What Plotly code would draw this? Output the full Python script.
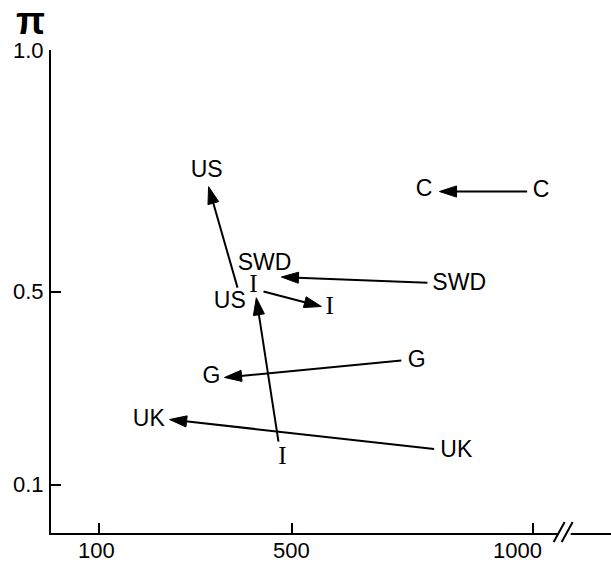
import plotly.graph_objects as go

# ---------------- data ----------------
label_text = ["C", "C", "SWD", "SWD", "US", "US", "G", "G", "UK", "UK"]
label_x = [1017, 774, 847, 443, 371, 323, 759, 333, 841, 203]
label_y = [0.707, 0.709, 0.516, 0.556, 0.477, 0.748, 0.355, 0.322, 0.170, 0.233]

italy_text = ["I", "I", "I"]
italy_x = [480, 420, 578]
italy_y = [0.156, 0.512, 0.467]

arrow_names = ["C", "SWD", "US", "I (1)", "I (2)", "G", "UK"]
arrow_x0 = [988, 781, 387, 472, 441, 727, 795]
arrow_y0 = [0.707, 0.518, 0.508, 0.189, 0.500, 0.357, 0.174]
arrow_x1 = [806, 478, 327, 426, 561, 360, 246]
arrow_y1 = [0.707, 0.530, 0.717, 0.487, 0.469, 0.322, 0.235]

x_ticks = [100, 500, 1000]
x_tick_labels = ["100", "500", "1000"]
y_ticks = [0.1, 0.5, 1.0]
y_tick_labels = ["0.1", "0.5", "1.0"]
y_title = "π"

# ---------------- figure ----------------
SANS = "Liberation Sans, Arial, Helvetica, sans-serif"
SERIF = "Liberation Serif, Times New Roman, serif"

fig = go.Figure()

for name, xa, ya, xb, yb in zip(arrow_names, arrow_x0, arrow_y0, arrow_x1, arrow_y1):
    fig.add_trace(go.Scatter(
        x=[xa, xb], y=[ya, yb], mode="lines+markers", name=name,
        line=dict(color="black", width=2),
        marker=dict(symbol=["circle", "arrow"], size=[0, 18], color="black",
                    opacity=1, angleref="previous",
                    line=dict(width=1, color="black")),
        showlegend=False, hoverinfo="skip", cliponaxis=False,
    ))

fig.add_trace(go.Scatter(
    x=label_x, y=label_y, text=label_text, mode="text",
    textposition="middle center",
    textfont=dict(family=SANS, size=23, color="black"),
    showlegend=False, hoverinfo="skip", cliponaxis=False,
))
fig.add_trace(go.Scatter(
    x=italy_x, y=italy_y, text=italy_text, mode="text",
    textposition="middle center",
    textfont=dict(family=SERIF, size=25, color="black"),
    showlegend=False, hoverinfo="skip", cliponaxis=False,
))

annotations = []
x_label_shift = {"100": -3, "500": 0, "1000": -15}
for v, t in zip(x_ticks, x_tick_labels):
    annotations.append(dict(
        x=v, xref="x", y=0, yref="y", text=t, showarrow=False,
        xanchor="center", yanchor="middle", xshift=x_label_shift[t], yshift=-17,
        font=dict(family=SANS, size=22, color="black"),
    ))
for v, t in zip(y_ticks, y_tick_labels):
    annotations.append(dict(
        x=0, xref="paper", y=v, yref="y", text=t, showarrow=False,
        xanchor="right", yanchor="middle", xshift=-5,
        font=dict(family=SANS, size=22, color="black"),
    ))
annotations.append(dict(
    x=0, xref="paper", y=1, yref="paper", text="<b>" + y_title + "</b>",
    showarrow=False, xanchor="center", yanchor="middle", xshift=-21, yshift=29,
    font=dict(family=SANS, size=38, color="black"),
))

# axis break marks "//" on the x axis (paper-referenced so they are not clipped)
brk = 0.9155
common = dict(type="line", xref="paper", yref="paper", xsizemode="pixel",
              ysizemode="pixel", xanchor=brk, yanchor=0)
shapes = [
    dict(common, x0=-5, x1=7, y0=0, y1=0, line=dict(color="white", width=5)),
    dict(common, x0=-10, x1=1, y0=-9, y1=11, line=dict(color="black", width=2)),
    dict(common, x0=-2, x1=9, y0=-9, y1=11, line=dict(color="black", width=2)),
]

fig.update_layout(
    width=611, height=562, autosize=False,
    margin=dict(l=51, r=0, t=50, b=29, pad=0),
    paper_bgcolor="white", plot_bgcolor="white",
    annotations=annotations, shapes=shapes,
    xaxis=dict(range=[0, 1162], showgrid=False, zeroline=False,
               showline=True, linecolor="black", linewidth=2,
               ticks="inside", ticklen=10, tickwidth=2, tickcolor="black",
               tickvals=x_ticks, showticklabels=False),
    yaxis=dict(range=[0, 1.0], showgrid=False, zeroline=False,
               showline=True, linecolor="black", linewidth=2,
               ticks="inside", ticklen=10, tickwidth=2, tickcolor="black",
               tickvals=y_ticks, showticklabels=False),
)

fig.write_html(
    "out.html",
    config={"displayModeBar": False},
    post_script="document.body.style.margin='0';document.body.style.overflow='hidden';",
)
